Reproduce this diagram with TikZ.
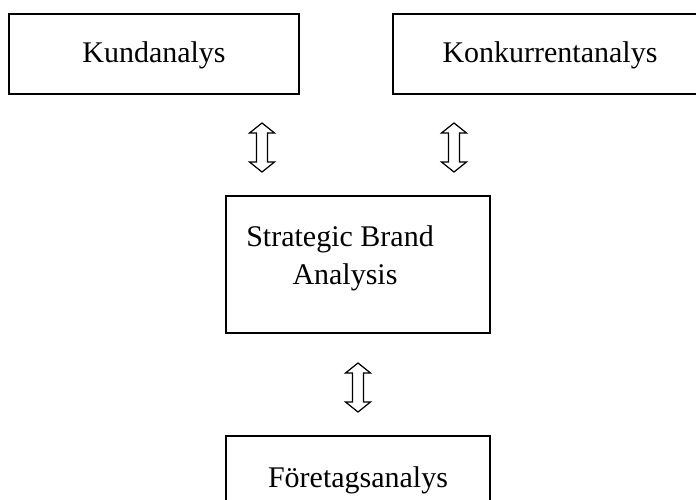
\documentclass[tikz,border=0pt]{standalone}
\usepackage{fontspec}
\setmainfont{Liberation Serif}
\begin{document}
\begin{tikzpicture}[x=1pt,y=-1pt,
  box/.style={draw=black, line width=1.6pt, rectangle, inner sep=0pt, outer sep=0pt},
  lbl/.style={font=\fontsize{30}{36}\selectfont, anchor=base, inner sep=0pt},
  udarrow/.pic={\draw[line width=1.2pt, line join=miter, fill=white]
      (0,-24.5) -- (12.5,-14.5) -- (5.5,-14.5) -- (5.5,14.5) -- (12.5,14.5) -- (0,24.5)
      -- (-12.5,14.5) -- (-5.5,14.5) -- (-5.5,-14.5) -- (-12.5,-14.5) -- cycle;}]
\useasboundingbox (0,0) rectangle (696,500);
\clip (0,0) rectangle (696,500);
% boxes
\node[box, minimum width=290pt, minimum height=80pt] (kund) at (154,54) {};
\node[box, minimum width=314pt, minimum height=80pt] (konk) at (550,54) {};
\node[box, minimum width=264pt, minimum height=137pt] (sba) at (358,264.5) {};
\node[box, minimum width=264pt, minimum height=90pt] (fore) at (358,481) {};
% labels
\node[lbl] (tkund) at (154,63) {Kundanalys};
\node[lbl] (tkonk) at (550,63) {Konkurrentanalys};
\node[lbl] (tsba1) at (340,246) {Strategic Brand};
\node[lbl] (tsba2) at (345,284) {Analysis};
\node[lbl] (tfore) at (358,487) {Företagsanalys};
% arrows
\pic at (262,147.5) {udarrow};
\pic at (454,147.5) {udarrow};
\pic at (358,387.5) {udarrow};
\end{tikzpicture}
\end{document}
